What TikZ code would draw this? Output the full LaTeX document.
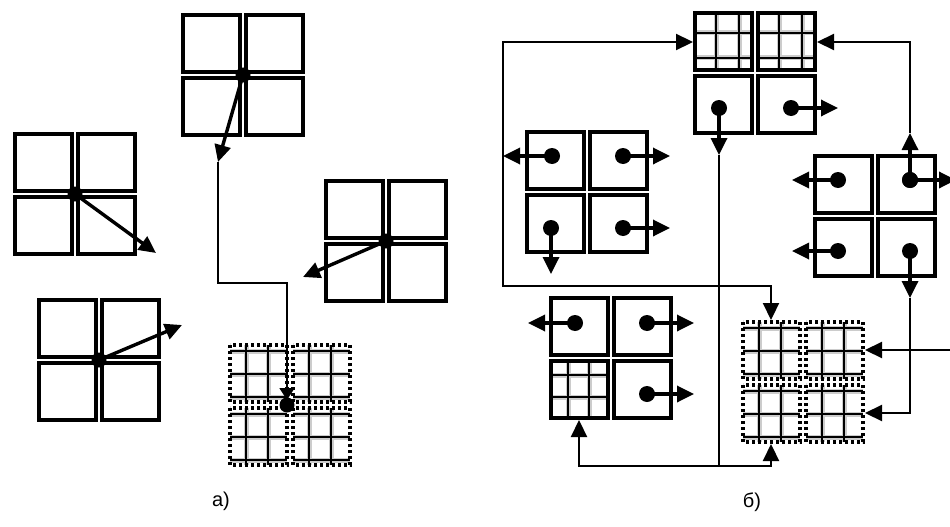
\documentclass[tikz,border=0pt]{standalone}
\usepackage{fontspec}
\setmainfont{Liberation Sans}
\usepackage{tikz}
\usetikzlibrary{arrows.meta, calc}

\tikzset{
  cell/.style={line width=3.6pt},
  dotcell/.style={line width=3.6pt, dash pattern=on 3pt off 3pt},
  gridhalo/.style={gray!40, line width=5pt},
  gridline/.style={line width=2.2pt},
  move/.style={line width=3.4pt, ->},
  link/.style={line width=2.2pt},
  thinlink/.style={line width=1.8pt, -{Triangle[length=12pt,width=15pt]}},
  lbl/.style={font=\fontsize{20}{24}\selectfont}
}

\begin{document}
\begin{tikzpicture}[x=1pt, y=-1pt, >={Triangle[length=17pt,width=16pt]}]
  \useasboundingbox (0,0) rectangle (950,527);

  % centres of the 2x2 blocks
  \coordinate (aT) at (243,75);
  \coordinate (aL) at (75,194);
  \coordinate (aB) at (99,360);
  \coordinate (aR) at (386,241);
  \coordinate (aG) at (290,405);
  \coordinate (bT) at (755,73);
  \coordinate (bL) at (587,192);
  \coordinate (bR) at (875,216);
  \coordinate (bD) at (611,358);
  \coordinate (bG) at (803,382);

  % plain cells
  \foreach \g in {aT,aL,aB,aR,bL,bR}
    \foreach \dx/\dy in {-60/-60,3/-60,-60/3,3/3}
      \draw[cell] ($(\g)+(\dx,\dy)$) rectangle +(57,57);
  \foreach \g/\dx/\dy in {bT/-60/3,bT/3/3,bD/-60/-60,bD/3/-60,bD/3/3}
    \draw[cell] ($(\g)+(\dx,\dy)$) rectangle +(57,57);

  % refined cells, solid border
  \foreach \g/\dx/\dy/\va/\vb/\ha/\hb in {bT/-60/-60/21/44/20/45,bT/3/-60/21/44/20/45,bD/-60/3/17/38/14/36}{
    \foreach \st in {gridhalo,gridline}{
      \foreach \s in {\va,\vb}
        \draw[\st] ($(\g)+(\dx,\dy)+(\s,0)$) -- +(0,57);
      \foreach \s in {\ha,\hb}
        \draw[\st] ($(\g)+(\dx,\dy)+(0,\s)$) -- +(57,0);
    }
    \draw[cell] ($(\g)+(\dx,\dy)$) rectangle +(57,57);
  }

  % refined cells, dotted border
  \foreach \g in {aG,bG}
    \foreach \dx/\dy in {-60/-60,3/-60,-60/3,3/3}{
      \foreach \st in {gridhalo,gridline}{
        \foreach \s in {16,38}
          \draw[\st] ($(\g)+(\dx,\dy)+(\s,0)$) -- +(0,57);
        \foreach \s in {6,29,52}
          \draw[\st] ($(\g)+(\dx,\dy)+(0,\s)$) -- +(57,0);
      }
      \draw[dotcell] ($(\g)+(\dx,\dy)$) rectangle +(57,57);
    }

  % (a) moving the common corner
  \coordinate (aT-end) at (218,162);
  \coordinate (aL-end) at (156,253);
  \coordinate (aB-end) at (182,325);
  \coordinate (aR-end) at (303,277);
  \coordinate (aG-dot) at (287,405);
  \coordinate (aG-top) at (287,400);
  \foreach \g in {aT,aL,aB,aR}{
    \fill (\g) circle (7.5pt);
    \draw[move] (\g) -- (\g-end);
  }
  \fill (aG-dot) circle (7.5pt);
  \draw[thinlink] (aT-end) -- (218,283) -| (aG-top);

  % (b) nodes inside the cells
  \coordinate (bT-down) at (719,155);
  \coordinate (bL-left) at (503,156);
  \coordinate (bR-up) at (910,133);
  \coordinate (bR-down) at (910,298);
  \foreach \x/\y/\ex/\ey in {719/108/0/47, 791/108/47/0,
      552/156/-49/0, 623/156/47/0, 551/228/0/46, 623/228/47/0,
      838/180/-46/0, 910/180/0/-47, 910/180/46/0, 838/251/-46/0, 910/251/0/47,
      575/323/-47/0, 647/323/47/0, 647/394/47/0}{
    \fill (\x,\y) circle (8pt);
    \draw[move] (\x,\y) -- ++(\ex,\ey);
  }

  % (b) links between blocks
  \coordinate (bT-w) at (693,42);
  \coordinate (bT-e) at (817,42);
  \coordinate (bG-n) at (771,320);
  \coordinate (bG-s) at (771,444);
  \coordinate (bG-e1) at (865,350);
  \coordinate (bG-e2) at (865,413);
  \coordinate (bD-s) at (579,420);
  \coordinate (bFork) at (719,466);
  \coordinate (bEdge) at (952,350);
  \draw[link,<->] (bT-w) -| (bL-left) -- (503,286) -| (bG-n);
  \draw[link,->] (bR-up) |- (bT-e);
  \draw[link,->] (bR-down) |- (bG-e2);
  \draw[link,->] (bEdge) -- (bG-e1);
  \draw[link,->] (bT-down) -- (bFork) -| (bD-s);
  \draw[link,->] (bFork) -| (bG-s);

  \node[lbl] (capA) at (221,501) {а)};
  \node[lbl] (capB) at (752,502) {б)};
\end{tikzpicture}
\end{document}
